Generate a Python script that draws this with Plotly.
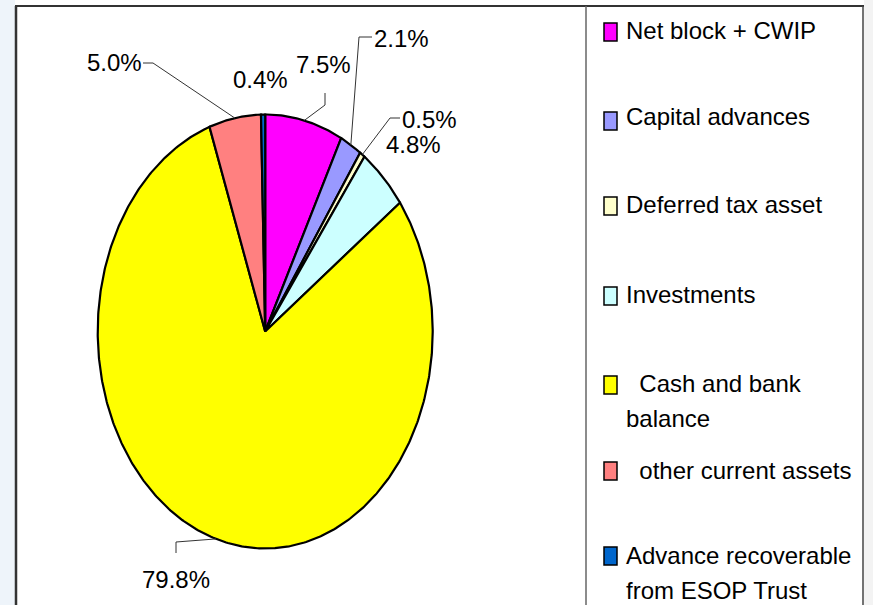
import math
import plotly.graph_objects as go

# ---------------- data ----------------
categories = ["Net block + CWIP", "Capital advances", "Deferred tax asset", "Investments",
              "Cash and bank balance", "other current assets", "Advance recoverable from ESOP Trust"]
values = [7.5, 2.1, 0.5, 4.8, 79.8, 5.0, 0.4]
pct_labels = ["7.5%", "2.1%", "0.5%", "4.8%", "79.8%", "5.0%", "0.4%"]
legend_lines = [["Net block + CWIP"], ["Capital advances"], ["Deferred tax asset"], ["Investments"],
                ["\u00a0\u00a0Cash and bank", "balance"], ["\u00a0\u00a0other current assets"],
                ["Advance recoverable", "from ESOP Trust"]]

# ---------------- styles / layout ----------------
colors = ["#FF00FF", "#9999FF", "#FFFFCC", "#CCFFFF", "#FFFF00", "#FF8080", "#0066CC"]
W, H = 873, 605
CX, CY, RX, RY = 265.2, 331.5, 167.5, 217.0
FONT = "Liberation Sans, Arial, sans-serif"
FS = 24

# label centre positions (pixels) and leader elbows
label_pos = [(323, 64), (401, 38), (429, 119), (413, 144), (176, 579), (114, 62), (260, 79)]
leaders = {0: [(325, 105), (325, 93)],
           1: [(359, 37), (372, 37)],
           2: [(390, 118), (400, 118)],
           4: [(176, 542), (176, 553)],
           5: [(153, 63), (143, 63)]}

legend_y = [30, 117, 204, 294, 383, 470, 555]
legend_box_y = [32, 121, 206, 296, 385, 471, 556]
LINE_GAP = 35


def ax(xp):
    return (xp - CX) / RX


def ay(yp):
    return (CY - yp) / RY


def px(xp):
    return xp / W


def py(yp):
    return 1 - yp / H


fig = go.Figure()

total = sum(values)
cum = 0.0
mids = []
for i, v in enumerate(values):
    a0 = cum / total * 2 * math.pi
    a1 = (cum + v) / total * 2 * math.pi
    cum += v
    mids.append((a0 + a1) / 2)
    n = max(4, int(v * 6))
    us, vs = [0.0], [0.0]
    for k in range(n + 1):
        t = a0 + (a1 - a0) * k / n
        us.append(math.sin(t))
        vs.append(math.cos(t))
    us.append(0.0)
    vs.append(0.0)
    fig.add_trace(go.Scatter(x=us, y=vs, mode="lines", fill="toself", fillcolor=colors[i],
                             line=dict(color="black", width=2.2), name=categories[i],
                             hoverinfo="name", showlegend=False))

# leader lines
for i, pts in leaders.items():
    m = mids[i]
    xs = [math.sin(m)] + [ax(p[0]) for p in pts]
    ys = [math.cos(m)] + [ay(p[1]) for p in pts]
    fig.add_trace(go.Scatter(x=xs, y=ys, mode="lines", line=dict(color="#333333", width=1),
                             hoverinfo="skip", showlegend=False))

annotations = []
for i, t in enumerate(pct_labels):
    x, y = label_pos[i]
    annotations.append(dict(x=ax(x), y=ay(y), xref="x", yref="y", text=t, showarrow=False,
                            font=dict(family=FONT, size=FS, color="black"),
                            xanchor="center", yanchor="middle"))

shapes = []
# side strips
shapes.append(dict(type="rect", xref="paper", yref="paper", x0=0, x1=px(15), y0=0, y1=1,
                   fillcolor="#eef4fa", line=dict(width=0), layer="below"))
shapes.append(dict(type="rect", xref="paper", yref="paper", x0=px(864), x1=1, y0=0, y1=1,
                   fillcolor="#f3f3f3", line=dict(width=0), layer="below"))
# frame
shapes.append(dict(type="line", xref="paper", yref="paper", x0=px(15), x1=px(864), y0=py(6), y1=py(6),
                   line=dict(color="#333333", width=2)))
shapes.append(dict(type="line", xref="paper", yref="paper", x0=px(16), x1=px(16), y0=py(6), y1=0,
                   line=dict(color="#333333", width=2.5)))
shapes.append(dict(type="line", xref="paper", yref="paper", x0=px(586), x1=px(586), y0=py(6), y1=0,
                   line=dict(color="#666666", width=1.5)))
shapes.append(dict(type="line", xref="paper", yref="paper", x0=px(863), x1=px(863), y0=py(6), y1=0,
                   line=dict(color="#444444", width=1.5)))

# legend
for i, lines in enumerate(legend_lines):
    by = legend_box_y[i]
    shapes.append(dict(type="rect", xref="paper", yref="paper", x0=px(604), x1=px(617),
                       y0=py(by + 9), y1=py(by - 9), fillcolor=colors[i],
                       line=dict(color="black", width=1.5)))
    for j, t in enumerate(lines):
        annotations.append(dict(x=px(624), y=py(legend_y[i] + j * LINE_GAP), xref="paper", yref="paper",
                                text=t, showarrow=False, align="left",
                                font=dict(family=FONT, size=FS, color="black"),
                                xanchor="left", yanchor="middle"))

fig.update_layout(
    width=W, height=H, autosize=False,
    margin=dict(l=0, r=0, t=0, b=0),
    paper_bgcolor="white", plot_bgcolor="white",
    xaxis=dict(range=[ax(0), ax(W)], visible=False, fixedrange=True),
    yaxis=dict(range=[ay(H), ay(0)], visible=False, fixedrange=True),
    shapes=shapes, annotations=annotations, showlegend=False,
)

fig.write_html("out.html", config={"displayModeBar": False},
               post_script="document.body.style.margin='0px';document.body.style.overflow='hidden';")
